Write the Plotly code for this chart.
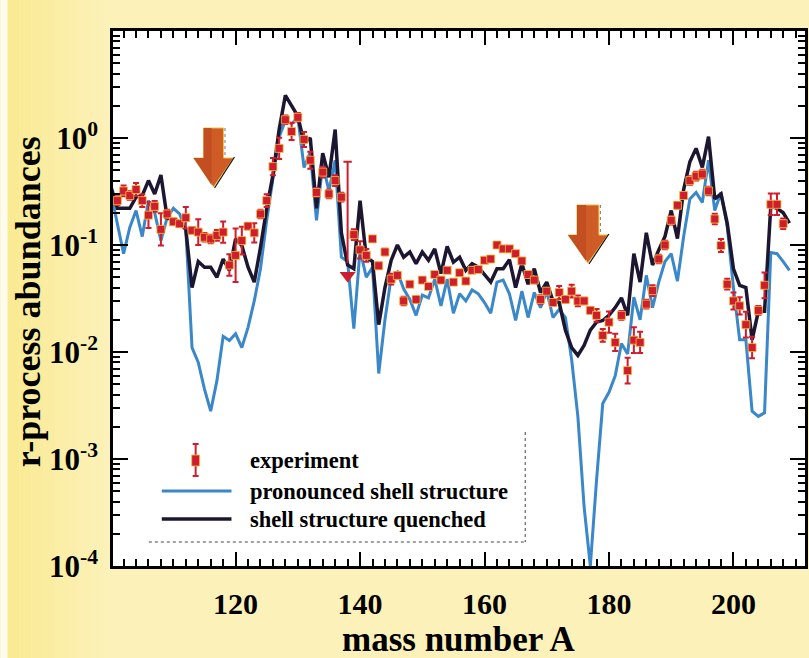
import plotly.graph_objects as go

# ---------------- data ----------------
mass_model = list(range(100, 210))

# r-process abundances, calculation with pronounced shell structure
pronounced = [
    0.30, 0.16, 0.083, 0.146, 0.21, 0.12, 0.26, 0.20, 0.11, 0.18,        # 100-109
    0.22, 0.195, 0.14, 0.011, 0.008, 0.0045, 0.0028, 0.0054, 0.014, 0.0128,  # 110-119
    0.0148, 0.011, 0.017, 0.03, 0.06, 0.17, 0.40, 1.02, 1.46, 1.36,      # 120-129
    1.56, 0.53, 0.74, 0.17, 0.57, 0.32, 0.62, 0.077, 0.07, 0.0165,       # 130-139
    0.09, 0.05, 0.062, 0.0063, 0.02, 0.05, 0.056, 0.039, 0.031, 0.022,   # 140-149
    0.034, 0.032, 0.048, 0.027, 0.048, 0.023, 0.035, 0.030, 0.038, 0.035,  # 150-159
    0.029, 0.023, 0.045, 0.047, 0.035, 0.0197, 0.037, 0.021, 0.036, 0.026,  # 160-169
    0.037, 0.021, 0.025, 0.021, 0.0085, 0.0025, 0.00036, 0.0001, 0.00063, 0.0033,  # 170-179
    0.0042, 0.006, 0.012, 0.0096, 0.0325, 0.02, 0.052, 0.026, 0.045, 0.07,  # 180-189
    0.083, 0.046, 0.12, 0.27, 0.31, 0.25, 0.62, 0.21, 0.31, 0.15,        # 190-199
    0.04, 0.013, 0.013, 0.0028, 0.0025, 0.0027, 0.085, 0.083, 0.07, 0.058,  # 200-209
]

# r-process abundances, calculation with shell structure quenched
quenched = [
    0.345, 0.22, 0.22, 0.22, 0.28, 0.29, 0.40, 0.30, 0.45, 0.18,         # 100-109
    0.17, 0.16, 0.14, 0.04, 0.07, 0.062, 0.062, 0.05, 0.074, 0.058,      # 110-119
    0.114, 0.099, 0.062, 0.045, 0.095, 0.22, 0.45, 1.2, 2.5, 2.0,        # 120-129
    1.6, 0.9, 1.0, 0.22, 0.72, 0.43, 1.2, 0.13, 0.065, 0.06,             # 130-139
    0.26, 0.077, 0.07, 0.018, 0.040, 0.072, 0.10, 0.077, 0.086, 0.067,  # 140-149
    0.086, 0.072, 0.092, 0.054, 0.097, 0.069, 0.077, 0.058, 0.067, 0.062,  # 150-159
    0.053, 0.045, 0.060, 0.060, 0.073, 0.040, 0.067, 0.043, 0.060, 0.036,  # 160-169
    0.045, 0.030, 0.029, 0.016, 0.011, 0.0093, 0.0115, 0.016, 0.019, 0.0197,  # 170-179
    0.022, 0.026, 0.032, 0.022, 0.083, 0.045, 0.13, 0.065, 0.09, 0.12,   # 180-189
    0.21, 0.115, 0.33, 0.6, 0.8, 0.53, 1.03, 0.27, 0.30, 0.16,           # 190-199
    0.06, 0.042, 0.040, 0.013, 0.024, 0.024, 0.23, 0.22, 0.20, 0.16,     # 200-209
]

# observed solar r-process abundances
exp_mass = [101, 102, 103, 104, 105, 106, 107, 108, 109, 110, 111, 112, 113, 114,
            115, 116, 117, 118, 119, 120, 121, 122, 123, 124, 125, 126, 127, 128,
            129, 130, 131, 132, 133, 134, 135, 136, 137, 139, 140, 141, 142, 143,
            144, 145, 146, 147, 148, 149, 150, 151, 152, 153, 154, 155, 156, 157,
            158, 159, 160, 161, 162, 163, 164, 165, 166, 167, 168, 169, 170, 171,
            172, 173, 174, 175, 176, 177, 178, 179, 180, 181, 182, 183, 184, 185,
            186, 187, 188, 189, 190, 191, 192, 193, 194, 195, 196, 197, 198, 199,
            200, 201, 202, 203, 204, 205, 206, 207, 208]
exp_abund = [0.26, 0.32, 0.29, 0.33, 0.26, 0.19, 0.23, 0.14, 0.195, 0.165, 0.158, 0.18,
             0.137, 0.132, 0.118, 0.114, 0.123, 0.132, 0.065, 0.08, 0.11, 0.15, 0.13,
             0.195, 0.26, 0.54, 0.8, 1.48, 1.15, 1.56, 0.97, 0.62, 0.31, 0.48, 0.30,
             0.40, 0.28, 0.125, 0.09, 0.08, 0.114, 0.064, 0.086, 0.048, 0.052, 0.030,
             0.043, 0.031, 0.047, 0.041, 0.053, 0.047, 0.058, 0.045, 0.055, 0.046,
             0.058, 0.059, 0.072, 0.074, 0.10, 0.092, 0.092, 0.083, 0.071, 0.053,
             0.047, 0.031, 0.037, 0.029, 0.036, 0.031, 0.037, 0.030, 0.030, 0.0245,
             0.022, 0.0143, 0.019, 0.0123, 0.022, 0.0067, 0.0129, 0.0123, 0.028,
             0.0375, 0.074, 0.10, 0.17, 0.235, 0.29, 0.40, 0.44, 0.46, 0.32, 0.175,
             0.099, 0.043, 0.030, 0.027, 0.018, 0.011, 0.0245, 0.042, 0.24, 0.24, 0.158]
# uncertainty of each observed value, in dex
exp_dex = [0.04, 0.05, 0.04, 0.06, 0.06, 0.12, 0.05, 0.15, 0.04, 0.03, 0.03, 0.10,
           0.03, 0.12, 0.04, 0.04, 0.05, 0.10, 0.10, 0.25, 0.13, 0.03, 0.09, 0.04,
           0.06, 0.08, 0.10, 0.04, 0.08, 0.04, 0.07, 0.08, 0.04, 0.05, 0.04, 0.05,
           0.04, 0.05, 0.08, 0.06, 0.0, 0.03, 0.03, 0.05, 0.03, 0.04, 0.02, 0.03,
           0.02, 0.02, 0.02, 0.02, 0.02, 0.02, 0.02, 0.02, 0.02, 0.02, 0.02, 0.0,
           0.0, 0.0, 0.0, 0.02, 0.02, 0.02, 0.03, 0.04, 0.03, 0.03, 0.06, 0.03,
           0.06, 0.05, 0.03, 0.03, 0.06, 0.06, 0.10, 0.08, 0.04, 0.12, 0.12, 0.10,
           0.04, 0.05, 0.04, 0.04, 0.04, 0.03, 0.03, 0.04, 0.04, 0.04, 0.04, 0.05,
           0.06, 0.05, 0.08, 0.08, 0.12, 0.10, 0.04, 0.12, 0.10, 0.10, 0.05]

# upper limit at A = 138
limit_mass = 138
limit_top = 0.6
limit_bottom = 0.068
limit_head = 0.052

x_ticks = [120, 140, 160, 180, 200]
y_ticks = [1e-4, 1e-3, 1e-2, 1e-1, 1]
y_ticktext = ["10<sup>-4</sup>", "10<sup>-3</sup>", "10<sup>-2</sup>",
              "10<sup>-1</sup>", "10<sup>0</sup>"]

# ---------------- styling ----------------
W, H = 809, 658
ML, MR, MT, MB = 113, 1, 31, 92
FONT = "Liberation Serif"
RED = "#cf1d2d"
BLUE = "#3a87c9"
DARK = "#1d1631"
PAPER = "#fcf1b8"


def px(x):
    return (x - ML) / (W - ML - MR)


def py(y):
    return (H - MB - y) / (H - MT - MB)


err_hi = [v * (10 ** d - 1) for v, d in zip(exp_abund, exp_dex)]
err_lo = [v * (1 - 10 ** (-d)) for v, d in zip(exp_abund, exp_dex)]

fig = go.Figure()

fig.add_trace(go.Scatter(x=mass_model, y=pronounced, mode="lines",
                         line=dict(color=BLUE, width=3), showlegend=False,
                         name="pronounced shell structure"))
fig.add_trace(go.Scatter(x=mass_model, y=quenched, mode="lines",
                         line=dict(color=DARK, width=3.5), showlegend=False,
                         name="shell structure quenched"))
fig.add_trace(go.Scatter(
    x=exp_mass, y=exp_abund, mode="markers", showlegend=False, name="experiment",
    marker=dict(symbol="square", size=8, color=RED,
                line=dict(color="#f2c23c", width=0.8)),
    error_y=dict(type="data", symmetric=False, array=err_hi, arrayminus=err_lo,
                 color=RED, thickness=2, width=3)))

# upper limit marker
fig.add_trace(go.Scatter(x=[limit_mass, limit_mass], y=[limit_top, limit_bottom],
                         mode="lines", line=dict(color=RED, width=2),
                         showlegend=False, hoverinfo="skip"))
fig.add_trace(go.Scatter(x=[limit_mass], y=[limit_top], mode="markers",
                         marker=dict(symbol="line-ew", size=6,
                                     line=dict(color=RED, width=2)),
                         showlegend=False, hoverinfo="skip"))
fig.add_trace(go.Scatter(x=[limit_mass], y=[limit_head], mode="markers",
                         marker=dict(symbol="triangle-down", size=14, color=RED,
                                     line=dict(width=0)),
                         showlegend=False, hoverinfo="skip"))

shapes = []

# slightly deeper yellow along the left edge of the page, fading to the right
band_cols = ["#f9ea93", "#f9eb97", "#faec9c", "#faeda1", "#fbeea6",
             "#fbefab", "#fbf0b0", "#fcf1b4"]
for i, col in enumerate(band_cols):
    shapes.append(dict(type="rect", xref="paper", yref="paper", layer="below",
                       x0=px(7 + 12 * i), x1=px(7 + 12 * (i + 1)), y0=py(H), y1=py(0),
                       fillcolor=col, line=dict(width=0)))
shapes.append(dict(type="rect", xref="paper", yref="paper", layer="below",
                   x0=px(0), x1=px(7), y0=py(H), y1=py(0),
                   fillcolor="#fdfbee", line=dict(width=0)))


def arrow(cx, top, neck, tip, hs, hh):
    pts = [(cx - hs, top), (cx + hs, top), (cx + hs, neck), (cx + hh, neck),
           (cx, tip), (cx - hh, neck), (cx - hs, neck)]
    path = "M " + " L ".join(f"{px(a):.4f},{py(b):.4f}" for a, b in pts) + " Z"
    shapes.append(dict(type="path", xref="paper", yref="paper", path=path,
                       fillcolor="#cf5b26", line=dict(color="#f0c040", width=1),
                       layer="above"))
    # darker left half of the arrow body
    left = [(cx - hs, top), (cx - 2, top), (cx - 2, tip - 2), (cx - hh, neck), (cx - hs, neck)]
    lpath = "M " + " L ".join(f"{px(a):.4f},{py(b):.4f}" for a, b in left) + " Z"
    shapes.append(dict(type="path", xref="paper", yref="paper", path=lpath,
                       fillcolor="#c24e21", line=dict(width=0), layer="above"))
    # shadow strokes on the right side
    shapes.append(dict(type="line", xref="paper", yref="paper",
                       x0=px(cx + hs + 1.5), y0=py(top), x1=px(cx + hs + 1.5), y1=py(neck),
                       line=dict(color="#777777", width=1, dash="dot")))
    shapes.append(dict(type="line", xref="paper", yref="paper",
                       x0=px(cx + hh + 1), y0=py(neck - 1), x1=px(cx + 1), y1=py(tip + 1),
                       line=dict(color="#111111", width=1.2)))


arrow(214, 128, 158, 187, 10, 20)
arrow(590, 205, 235, 263, 11, 20)

# hand-drawn legend
shapes += [
    dict(type="line", xref="paper", yref="paper", x0=px(196), x1=px(196),
         y0=py(444), y1=py(476), line=dict(color=RED, width=2)),
    dict(type="line", xref="paper", yref="paper", x0=px(193), x1=px(199),
         y0=py(444), y1=py(444), line=dict(color=RED, width=2)),
    dict(type="line", xref="paper", yref="paper", x0=px(193), x1=px(199),
         y0=py(476), y1=py(476), line=dict(color=RED, width=2)),
    dict(type="rect", xref="paper", yref="paper", x0=px(192), x1=px(200),
         y0=py(466), y1=py(455), fillcolor=RED, line=dict(color="#f2c23c", width=0.8)),
    dict(type="line", xref="paper", yref="paper", x0=px(162), x1=px(232),
         y0=py(491), y1=py(491), line=dict(color=BLUE, width=3)),
    dict(type="line", xref="paper", yref="paper", x0=px(162), x1=px(232),
         y0=py(519), y1=py(519), line=dict(color=DARK, width=3.5)),
    dict(type="line", xref="paper", yref="paper", x0=px(527), x1=px(527),
         y0=py(432), y1=py(542), line=dict(color="#444444", width=1, dash="dot")),
    dict(type="line", xref="paper", yref="paper", x0=px(149), x1=px(527),
         y0=py(542), y1=py(542), line=dict(color="#444444", width=1, dash="dot")),
]

annotations = []
for label, yy in [("experiment", 460), ("pronounced shell structure", 491),
                  ("shell structure quenched", 519)]:
    annotations.append(dict(text=label, xref="paper", yref="paper", x=px(249), y=py(yy),
                            xanchor="left", yanchor="middle", showarrow=False,
                            font=dict(family=FONT, size=22.5, color="black", weight="bold")))

annotations.append(dict(text="mass number A", xref="paper", yref="paper",
                        x=px(460), y=py(639), xanchor="center", yanchor="middle",
                        showarrow=False,
                        font=dict(family=FONT, size=35, color="black", weight="bold")))
annotations.append(dict(text="r-process abundances", xref="paper", yref="paper",
                        x=px(28), y=py(302), xanchor="center", yanchor="middle",
                        textangle=-90, showarrow=False,
                        font=dict(family=FONT, size=36, color="black", weight="bold")))

minor_y = [k * 10.0 ** e for e in range(-4, 1) for k in range(2, 10)]

fig.update_layout(
    width=W, height=H,
    margin=dict(l=ML, r=MR, t=MT, b=MB, pad=0),
    paper_bgcolor=PAPER, plot_bgcolor="white",
    shapes=shapes, annotations=annotations,
    showlegend=False,
    xaxis=dict(range=[100.3, 211.5], tickvals=x_ticks, ticks="inside", ticklen=14,
               tickwidth=2, tickcolor="black", showline=True, linewidth=2.5,
               linecolor="black", mirror="allticks", showgrid=False, zeroline=False,
               ticklabelstandoff=9,
               tickfont=dict(family=FONT, size=30, color="black", weight="bold"),
               minor=dict(dtick=2, ticks="inside", ticklen=7, tickwidth=1.5,
                          tickcolor="black", showgrid=False)),
    yaxis=dict(type="log", range=[-4, 1], tickvals=y_ticks, ticktext=y_ticktext,
               ticks="inside", ticklen=15, tickwidth=2, tickcolor="black",
               showline=True, linewidth=2.5, linecolor="black", mirror="allticks",
               showgrid=False, zeroline=False, ticklabelstandoff=6,
               tickfont=dict(family=FONT, size=31, color="black", weight="bold"),
               minor=dict(tickvals=minor_y, ticks="inside", ticklen=7, tickwidth=1.5,
                          tickcolor="black", showgrid=False)),
)

fig.write_html("out.html")
